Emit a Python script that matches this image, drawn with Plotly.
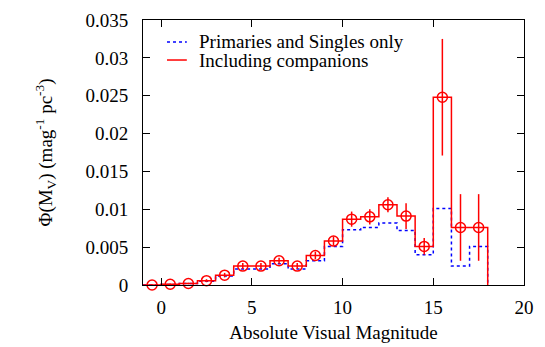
import plotly.graph_objects as go

# Bin centres (absolute visual magnitude), bin width 1
centers = [-0.5, 0.5, 1.5, 2.5, 3.5, 4.5, 5.5, 6.5, 7.5, 8.5, 9.5,
           10.5, 11.5, 12.5, 13.5, 14.5, 15.5, 16.5, 17.5]
bin_width = 1.0

# Including companions (red)
phi_all = [0.0, 0.0001, 0.0002, 0.00057, 0.0013, 0.0025, 0.0025, 0.0032, 0.0025,
           0.0039, 0.0058, 0.0087, 0.0090, 0.0106, 0.0091, 0.0051, 0.0248, 0.0076, 0.0076]
err_all = [0.0001, 0.0001, 0.0001, 0.0002, 0.0003, 0.0004, 0.0004, 0.0004, 0.0004,
           0.0005, 0.0006, 0.0010, 0.0010, 0.0010, 0.0017, 0.0011, 0.0077, 0.0044, 0.0044]

# Primaries and singles only (blue)
phi_prim = [0.0, 0.00005, 0.0002, 0.0005, 0.0012, 0.0021, 0.0021, 0.0028, 0.0021,
            0.0032, 0.0051, 0.0073, 0.0076, 0.0082, 0.0072, 0.0040, 0.0101, 0.0025, 0.0051]

x_ticks = [0, 5, 10, 15, 20]
y_ticks = [0, 0.005, 0.01, 0.015, 0.02, 0.025, 0.03, 0.035]
y_ticklabels = ["0", "0.005", "0.01", "0.015", "0.02", "0.025", "0.03", "0.035"]

FONT = "Liberation Serif"
FS = 19


def steps(vals):
    left = [c - bin_width / 2 for c in centers]
    right_end = centers[-1] + bin_width / 2
    xs = left + [right_end, right_end]
    ys = list(vals) + [vals[-1], 0]
    return xs, ys


fig = go.Figure()

xb, yb = steps(phi_prim)
fig.add_trace(go.Scatter(x=xb, y=yb, mode="lines", line_shape="hv",
                         line=dict(color="#0000ff", width=1.5, dash="dot"),
                         showlegend=False, hoverinfo="skip"))

xr, yr = steps(phi_all)
fig.add_trace(go.Scatter(x=xr, y=yr, mode="lines", line_shape="hv",
                         line=dict(color="#ff0000", width=1.5),
                         showlegend=False, hoverinfo="skip"))

fig.add_trace(go.Scatter(x=centers, y=phi_all, mode="markers",
                         marker=dict(symbol="circle-open", size=10,
                                     color="#ff0000", line=dict(width=1.5, color="#ff0000")),
                         error_y=dict(type="data", array=err_all, visible=True,
                                      color="#ff0000", thickness=1.5, width=0),
                         showlegend=False, cliponaxis=False))

# Manual legend (inside top-left)
legend_items = [("Primaries and Singles only", "#0000ff", "dot", 0.917),
                ("Including companions", "#ff0000", "solid", 0.849)]
for label, col, dash, yp in legend_items:
    fig.add_shape(type="line", xref="paper", yref="paper",
                  x0=0.063, x1=0.115, y0=yp, y1=yp,
                  line=dict(color=col, width=1.5, dash=dash))
    fig.add_annotation(x=0.141, y=yp, xref="paper", yref="paper",
                       text=label, showarrow=False, xanchor="left", yanchor="middle",
                       font=dict(family=FONT, size=FS, color="black"))

axis_common = dict(showline=True, linecolor="black", linewidth=1, mirror="ticks",
                   ticks="inside", ticklen=7, tickwidth=1, tickcolor="black",
                   showgrid=False, zeroline=False, automargin=False,
                   tickfont=dict(family=FONT, size=FS, color="black"))

fig.update_xaxes(range=[-1, 20], tickvals=x_ticks, ticklabelstandoff=5,
                 title=dict(text="Absolute Visual Magnitude",
                            font=dict(family=FONT, size=FS, color="black"), standoff=8),
                 **axis_common)
fig.update_yaxes(range=[0, 0.035], tickvals=y_ticks, ticktext=y_ticklabels,
                 ticklabelstandoff=10,
                 title=dict(text="Φ(M<sub>V</sub>) (mag<sup>-1</sup> pc<sup>-3</sup>)",
                            font=dict(family=FONT, size=FS, color="black"), standoff=27),
                 **axis_common)

# The page body adds an 8px offset; compensate so the plot area sits at 143..524 x 20..285
fig.update_layout(width=537, height=339,
                  margin=dict(l=135, r=21, t=12, b=62),
                  plot_bgcolor="white", paper_bgcolor="white",
                  showlegend=False)

fig.write_html("out.html")
